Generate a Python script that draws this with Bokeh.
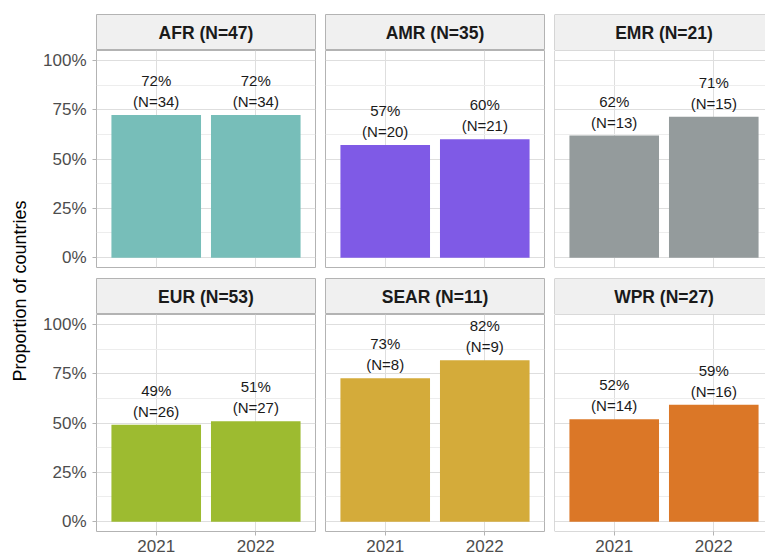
import math
from bokeh.plotting import figure
from bokeh.layouts import row, column
from bokeh.models import Range1d, FixedTicker, Span, ColumnDataSource, NumeralTickFormatter
from bokeh.core.properties import value
from bokeh.embed import file_html
from bokeh.resources import INLINE

# ---------------- data ----------------
regions = ["AFR", "AMR", "EMR", "EUR", "SEAR", "WPR"]
region_n = [47, 35, 21, 53, 11, 27]
years = ["2021", "2022"]
prop_2021 = [0.723, 0.571, 0.619, 0.491, 0.727, 0.519]
prop_2022 = [0.723, 0.600, 0.714, 0.509, 0.818, 0.593]
count_2021 = [34, 20, 13, 26, 8, 14]
count_2022 = [34, 21, 15, 27, 9, 16]
colors = ["#77BEB9", "#7F5AE6", "#949B9C", "#9DBB30", "#D4AB3A", "#DB7727"]
y_ticks = [0, 0.25, 0.5, 0.75, 1.0]
y_minor = [0.125, 0.375, 0.625, 0.875]
y_title = "Proportion of countries"

# ---------------- layout / style ----------------
FONT = "Liberation Sans"
TOP_PAD = 14
STRIP_H = 36
PANEL_H = 217
GAP = 11
PANEL_W = 219
LAST_W = 211
LEFT_AXIS = 62
YLAB_W = 34
HALF = 5
BOTTOM_AXIS = 27
PX_PER_UNIT = PANEL_W / 2.2
X0 = 0.4
BORDER = "#B3B3B3"
GRID_MAJOR = "#DEDEDE"
GRID_MINOR = "#EDEDED"
STRIP_FILL = "#F0F0F0"
TOTAL_H = TOP_PAD + STRIP_H + PANEL_H + GAP + STRIP_H + PANEL_H + BOTTOM_AXIS

x_pos = [i + 1 for i in range(len(years))]


def x_range_for(col):
    w = LAST_W if col == 2 else PANEL_W
    return Range1d(X0, X0 + w / PX_PER_UNIT), w


def base_fig(col, frame_h, top_border, bottom_border):
    xr, w = x_range_for(col)
    f = figure(frame_width=w, frame_height=frame_h, x_range=xr,
               output_backend="svg", toolbar_location=None,
               min_border_left=LEFT_AXIS if col == 0 else HALF,
               min_border_right=HALF if col < 2 else 0,
               min_border_top=top_border, min_border_bottom=bottom_border)
    f.border_fill_color = "white"
    return f


def add_spans(f, bottom, top):
    for loc, dim in [(X0, "height"), (bottom, "width"), (top, "width")]:
        f.add_layout(Span(location=loc, dimension=dim, line_color=BORDER, line_width=1))


def make_strip(i, col, top_row):
    f = base_fig(col, STRIP_H, TOP_PAD if top_row else 0, 0)
    f.y_range = Range1d(0, 1)
    f.axis.visible = False
    f.grid.visible = False
    f.background_fill_color = STRIP_FILL
    if col < 2:
        f.outline_line_color = BORDER
    else:
        f.outline_line_color = None
        add_spans(f, 0, 1)
    f.text(x=[1.5], y=[0.5], text=[f"{regions[i]} (N={region_n[i]})"],
           text_font=value(FONT), text_font_style="bold", text_font_size="17.5px",
           text_align="center", text_baseline="middle", text_color="#1A1A1A")
    return f


def make_panel(i, col, bottom_row):
    f = base_fig(col, PANEL_H, 0, BOTTOM_AXIS if bottom_row else GAP)
    f.y_range = Range1d(-0.05, 1.05)
    f.background_fill_color = "white"
    if col < 2:
        f.outline_line_color = BORDER
    else:
        f.outline_line_color = None
        add_spans(f, -0.05, 1.05)

    f.xgrid.ticker = FixedTicker(ticks=x_pos)
    f.xgrid.grid_line_color = GRID_MAJOR
    f.ygrid.ticker = FixedTicker(ticks=y_ticks, minor_ticks=y_minor)
    f.ygrid.grid_line_color = GRID_MAJOR
    f.ygrid.minor_grid_line_color = GRID_MINOR

    tops = [prop_2021[i], prop_2022[i]]
    counts = [count_2021[i], count_2022[i]]
    src = ColumnDataSource(dict(
        x=x_pos, top=tops,
        pct=[f"{round(v * 100)}%" for v in tops],
        cnt=[f"(N={c})" for c in counts]))
    f.vbar(x="x", top="top", bottom=0, width=0.9, source=src,
           fill_color=colors[i], line_color=None)
    for field, off in [("pct", -34.5), ("cnt", -13.5)]:
        f.text(x="x", y="top", text=field, source=src, y_offset=off,
               text_font=value(FONT), text_font_size="15px",
               text_align="center", text_baseline="middle", text_color="#1A1A1A")

    # y axis
    if col == 0:
        ya = f.yaxis[0]
        ya.ticker = FixedTicker(ticks=y_ticks, minor_ticks=[])
        ya.formatter = NumeralTickFormatter(format="0%")
        ya.axis_line_color = None
        ya.major_tick_out = 4
        ya.major_tick_in = 0
        ya.minor_tick_out = 0
        ya.minor_tick_in = 0
        ya.major_tick_line_color = BORDER
        ya.major_label_standoff = 6
        ya.major_label_text_font = FONT
        ya.major_label_text_font_size = "17px"
        ya.major_label_text_color = "#4D4D4D"
    else:
        f.yaxis.visible = False

    # x axis
    if bottom_row:
        xa = f.xaxis[0]
        xa.ticker = FixedTicker(ticks=x_pos, minor_ticks=[])
        xa.major_label_overrides = {p: y for p, y in zip(x_pos, years)}
        xa.axis_line_color = None
        xa.major_tick_out = 4
        xa.major_tick_in = 0
        xa.minor_tick_out = 0
        xa.minor_tick_in = 0
        xa.major_tick_line_color = BORDER
        xa.major_label_standoff = 4
        xa.major_label_text_font = FONT
        xa.major_label_text_font_size = "17px"
        xa.major_label_text_color = "#4D4D4D"
    else:
        f.xaxis.visible = False
    return f


# y-axis title figure
ylab = figure(width=YLAB_W, height=TOTAL_H, x_range=Range1d(0, YLAB_W), y_range=Range1d(0, TOTAL_H),
              output_backend="svg", toolbar_location=None,
              min_border_left=0, min_border_right=0, min_border_top=0, min_border_bottom=0)
ylab.axis.visible = False
ylab.grid.visible = False
ylab.outline_line_color = None
ylab.border_fill_color = "white"
panels_top = TOP_PAD + STRIP_H
panels_bottom = TOP_PAD + STRIP_H + PANEL_H + GAP + STRIP_H + PANEL_H
ylab.text(x=[19], y=[TOTAL_H - (panels_top + panels_bottom) / 2], text=[y_title],
          angle=math.pi / 2, text_font=value(FONT), text_font_size="18px",
          text_align="center", text_baseline="middle", text_color="#000000")

cols = []
for col in range(3):
    top_i = col
    bot_i = col + 3
    cols.append(column(make_strip(top_i, col, True), make_panel(top_i, col, False),
                       make_strip(bot_i, col, False), make_panel(bot_i, col, True)))

layout = row(ylab, *cols)

with open("out.html", "w") as fh:
    fh.write(file_html(layout, INLINE))
